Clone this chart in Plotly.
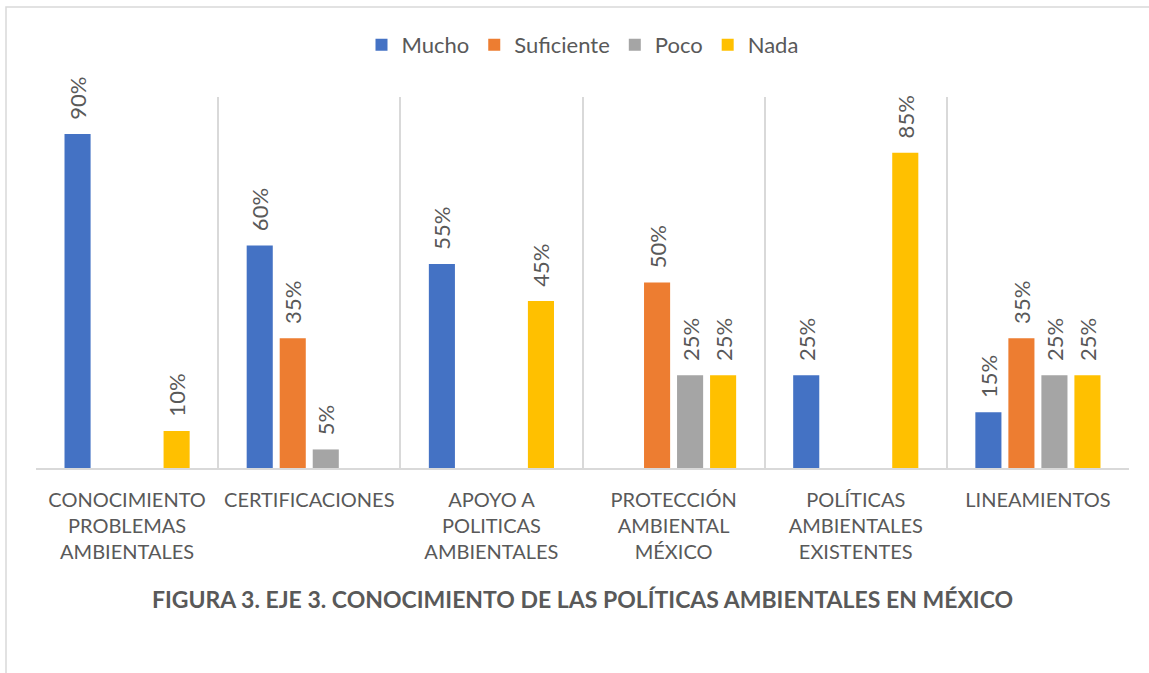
import plotly.graph_objects as go

categories = [
    "CONOCIMIENTO<br>PROBLEMAS<br>AMBIENTALES",
    "CERTIFICACIONES",
    "APOYO A<br>POLITICAS<br>AMBIENTALES",
    "PROTECCIÓN<br>AMBIENTAL<br>MÉXICO",
    "POLÍTICAS<br>AMBIENTALES<br>EXISTENTES",
    "LINEAMIENTOS",
]
mucho = [90, 60, 55, 0, 25, 15]
suficiente = [0, 35, 0, 50, 0, 35]
poco = [0, 5, 0, 25, 0, 25]
nada = [10, 0, 45, 25, 85, 25]

series = [
    ("Mucho", mucho, "#4472C4"),
    ("Suficiente", suficiente, "#ED7D31"),
    ("Poco", poco, "#A5A5A5"),
    ("Nada", nada, "#FFC000"),
]

FONT = "Lato"
GRAY = "#595959"
PAD = "\u00a0\u00a0"

fig = go.Figure()
for name, vals, color in series:
    fig.add_trace(go.Bar(
        name=name,
        x=categories,
        y=[v / 100 for v in vals],
        marker=dict(color=color, line=dict(width=0)),
        text=[f"{PAD}{v}%" if v else "" for v in vals],
        textposition="outside",
        textangle=-90,
        constraintext="none",
        cliponaxis=False,
        textfont=dict(family=FONT, size=22, color=GRAY),
        hoverinfo="skip",
    ))

L, R, T, B = 36, 20, 97, 205
W, H = 1149, 673
pw, ph = W - L - R, H - T - B

fig.update_layout(
    width=W, height=H,
    margin=dict(l=L, r=R, t=T, b=B),
    paper_bgcolor="white",
    plot_bgcolor="white",
    barmode="group",
    bargap=0.275,
    bargroupgap=0.21,
    font=dict(family=FONT, color=GRAY, size=20),
    showlegend=True,
    legend=dict(
        orientation="h", x=0.5, xanchor="center",
        y=1 + (T - 45) / ph, yanchor="middle",
        font=dict(family=FONT, size=22, color=GRAY),
        itemclick=False, itemdoubleclick=False,
    ),
    title=dict(
        text="<b>FIGURA 3. EJE 3. CONOCIMIENTO DE LAS POLÍTICAS AMBIENTALES EN MÉXICO</b>",
        x=0.5, xref="paper", xanchor="center",
        y=1 - 600 / H, yref="container", yanchor="middle",
        font=dict(family=FONT, size=23, color=GRAY),
    ),
    xaxis=dict(
        type="category",
        range=[-0.5, 5.5],
        tickson="boundaries",
        showgrid=True, gridcolor="#D9D9D9", gridwidth=1.5,
        showline=True, linecolor="#D9D9D9", linewidth=1.5,
        ticks="", ticklabelstandoff=13,
        tickfont=dict(family=FONT, size=20, color=GRAY),
        fixedrange=True,
    ),
    yaxis=dict(
        range=[0, 1.0],
        showgrid=False, zeroline=False, showticklabels=False,
        showline=False, fixedrange=True,
    ),
    shapes=[dict(
        type="rect", xref="paper", yref="paper",
        x0=(6 - L) / pw, x1=1.2,
        y0=-2, y1=1 + (T - 7) / ph,
        line=dict(color="#D9D9D9", width=1.5),
        fillcolor="rgba(0,0,0,0)", layer="below",
    )],
)

fig.write_html(
    "out.html",
    config={"displayModeBar": False, "staticPlot": False},
    post_script="document.body.style.margin='0';document.body.style.overflow='hidden';",
)
